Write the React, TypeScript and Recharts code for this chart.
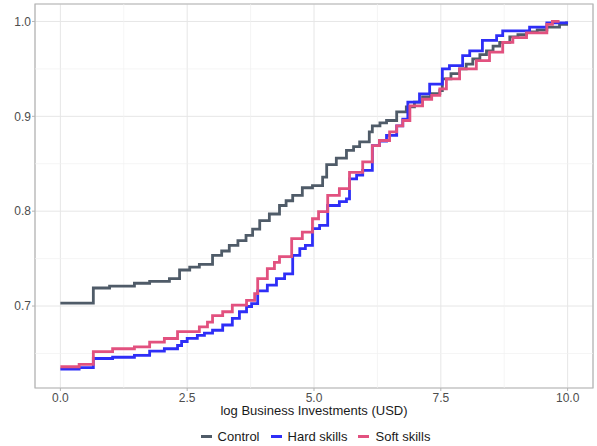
import React from "react";
import {
  LineChart,
  Line,
  XAxis,
  YAxis,
  CartesianGrid,
  Legend,
  ReferenceLine,
  ReferenceArea,
} from "recharts";

const seriesNames = ["Control", "Hard skills", "Soft skills"];
const seriesColors = ["#4F5B68", "#2E2EF7", "#E2517F"];

const controlX = [0, 0.65, 0.97, 1.46, 1.76, 2.15, 2.35, 2.55, 2.74, 3.0, 3.18, 3.33, 3.5, 3.66, 3.79, 3.93, 4.12, 4.32, 4.45, 4.58, 4.77, 4.97, 5.17, 5.25, 5.44, 5.64, 5.78, 5.9, 6.09, 6.15, 6.3, 6.43, 6.63, 6.82, 6.98, 7.14, 7.3, 7.48, 7.53, 7.7, 7.87, 8.0, 8.13, 8.27, 8.4, 8.53, 8.66, 8.86, 9.02, 9.19, 9.4, 9.59, 9.84, 9.98];
const controlY = [0.703, 0.719, 0.721, 0.724, 0.726, 0.729, 0.738, 0.741, 0.744, 0.7535, 0.758, 0.764, 0.769, 0.7745, 0.781, 0.79, 0.797, 0.806, 0.811, 0.8166, 0.8247, 0.827, 0.836, 0.849, 0.856, 0.864, 0.868, 0.873, 0.8837, 0.89, 0.893, 0.8956, 0.9047, 0.91, 0.915, 0.9205, 0.924, 0.927, 0.9395, 0.945, 0.95, 0.955, 0.9605, 0.965, 0.969, 0.974, 0.978, 0.9837, 0.986, 0.989, 0.991, 0.994, 0.997, 1.0];

const hardX = [0, 0.37, 0.65, 1.03, 1.46, 1.76, 2.05, 2.31, 2.39, 2.5, 2.7, 2.84, 3.0, 3.2, 3.39, 3.53, 3.67, 3.77, 3.89, 4.08, 4.26, 4.42, 4.58, 4.72, 4.83, 4.97, 5.11, 5.27, 5.5, 5.64, 5.7, 5.84, 5.96, 6.15, 6.29, 6.43, 6.63, 6.75, 6.85, 7.08, 7.28, 7.53, 7.67, 7.93, 8.07, 8.32, 8.6, 8.72, 9.25, 9.59, 9.98];
const hardY = [0.6335, 0.635, 0.6447, 0.646, 0.648, 0.6524, 0.655, 0.6584, 0.6626, 0.666, 0.669, 0.6715, 0.6745, 0.68, 0.687, 0.694, 0.6995, 0.7026, 0.716, 0.722, 0.729, 0.734, 0.7535, 0.7605, 0.764, 0.7816, 0.785, 0.806, 0.81, 0.813, 0.834, 0.838, 0.843, 0.869, 0.874, 0.88, 0.89, 0.897, 0.915, 0.9237, 0.934, 0.95, 0.9535, 0.964, 0.969, 0.98, 0.985, 0.99, 0.994, 0.9985, 1.0];

const softX = [0, 0.37, 0.65, 1.03, 1.46, 1.76, 2.05, 2.31, 2.74, 2.9, 3.0, 3.2, 3.39, 3.67, 3.83, 3.89, 4.08, 4.22, 4.32, 4.56, 4.77, 4.97, 5.09, 5.27, 5.5, 5.7, 5.96, 6.15, 6.29, 6.49, 6.63, 6.75, 6.89, 7.14, 7.32, 7.48, 7.61, 7.87, 8.2, 8.46, 8.72, 8.92, 9.19, 9.59, 9.7, 9.84];
const softY = [0.636, 0.6384, 0.652, 0.655, 0.657, 0.662, 0.6658, 0.673, 0.678, 0.683, 0.69, 0.694, 0.701, 0.706, 0.713, 0.729, 0.7395, 0.746, 0.752, 0.771, 0.778, 0.792, 0.7995, 0.8166, 0.8237, 0.841, 0.852, 0.869, 0.8745, 0.8837, 0.89, 0.8956, 0.911, 0.918, 0.922, 0.929, 0.9395, 0.95, 0.9587, 0.9676, 0.978, 0.983, 0.988, 0.997, 1.0, 1.0];

const xTicks = [0, 2.5, 5, 7.5, 10];
const yTicks = [0.7, 0.8, 0.9, 1.0];
const xMinor = [1.25, 3.75, 6.25, 8.75];
const yMinor = [0.65, 0.75, 0.85, 0.95];

const toPoints = (xs: number[], ys: number[]) => xs.map((x, i) => ({ x, y: ys[i] }));
const seriesData = [toPoints(controlX, controlY), toPoints(hardX, hardY), toPoints(softX, softY)];

const FONT = "'Liberation Sans', Arial, Helvetica, sans-serif";
const X_DOMAIN: [number, number] = [-0.5, 10.5];
const Y_DOMAIN: [number, number] = [0.6136, 1.0184];

const LegendContent = () => (
  <div
    style={{
      display: "flex",
      justifyContent: "center",
      alignItems: "center",
      fontFamily: FONT,
      fontSize: 13,
      color: "#1a1a1a",
      height: 20,
      paddingLeft: 38,
    }}
  >
    {seriesNames.map((n, i) => (
      <div key={n} style={{ display: "flex", alignItems: "center", marginRight: i < 2 ? 11 : 0 }}>
        <span style={{ display: "inline-block", width: 11, height: 3, background: seriesColors[i], marginRight: 6 }} />
        <span>{n}</span>
      </div>
    ))}
  </div>
);

export default function App() {
  return (
    <div style={{ position: "absolute", left: 0, top: 0, background: "#fff" }}>
      <LineChart width={597} height={446} margin={{ top: 4, right: 4, bottom: 0, left: 0 }}>
        <CartesianGrid stroke="#e6e6e6" strokeWidth={1} />
        {xMinor.map((v) => (
          <ReferenceLine key={"xm" + v} x={v} stroke="#f1f1f1" strokeWidth={0.7} />
        ))}
        {yMinor.map((v) => (
          <ReferenceLine key={"ym" + v} y={v} stroke="#f1f1f1" strokeWidth={0.7} />
        ))}
        <XAxis
          type="number"
          dataKey="x"
          domain={X_DOMAIN}
          ticks={xTicks}
          allowDataOverflow
          tickFormatter={(v: number) => v.toFixed(1)}
          axisLine={false}
          tickLine={{ stroke: "#b3b3b3" }}
          tickSize={3}
          tickMargin={2}
          height={38}
          tick={{ fill: "#4d4d4d", fontSize: 12, fontFamily: FONT }}
          label={{
            value: "log Business Investments (USD)",
            position: "insideBottom",
            offset: 11,
            fill: "#1a1a1a",
            fontSize: 13,
            fontFamily: FONT,
          }}
        />
        <YAxis
          type="number"
          dataKey="y"
          domain={Y_DOMAIN}
          ticks={yTicks}
          allowDataOverflow
          tickFormatter={(v: number) => v.toFixed(1)}
          axisLine={false}
          tickLine={{ stroke: "#b3b3b3" }}
          tickSize={3}
          tickMargin={1}
          width={35}
          tick={{ fill: "#4d4d4d", fontSize: 12, fontFamily: FONT }}
        />
        <Legend verticalAlign="bottom" height={20} content={<LegendContent />} />
        {seriesNames.map((n, i) => (
          <Line
            key={n}
            name={n}
            data={seriesData[i]}
            dataKey="y"
            type="stepAfter"
            stroke={seriesColors[i]}
            strokeWidth={2.8}
            dot={false}
            activeDot={false}
            isAnimationActive={false}
          />
        ))}
        <ReferenceArea
          x1={X_DOMAIN[0]}
          x2={X_DOMAIN[1]}
          y1={Y_DOMAIN[0]}
          y2={Y_DOMAIN[1]}
          fill="none"
          fillOpacity={0}
          stroke="#b3b3b3"
          strokeWidth={1.2}
          ifOverflow="visible"
        />
      </LineChart>
    </div>
  );
}
